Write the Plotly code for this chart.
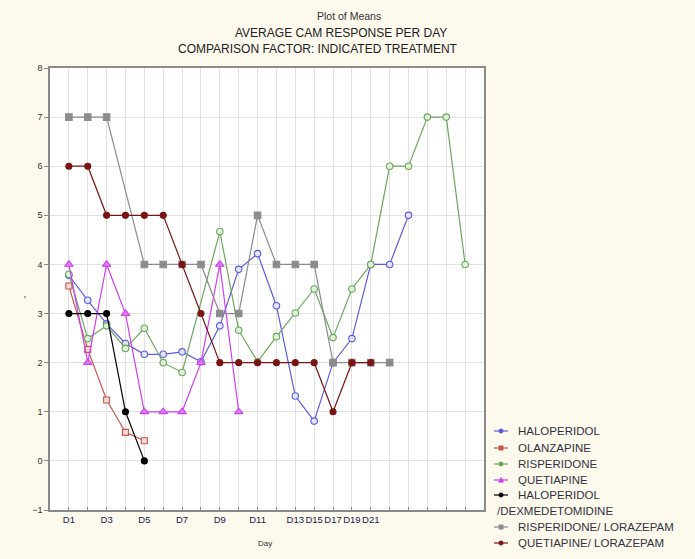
import plotly.graph_objects as go

positions = list(range(1, 23))
day_labels = ["D1", "", "D3", "", "D5", "", "D7", "", "D9", "", "D11", "",
              "D13", "D15", "D17", "D19", "D21", "", "", "", "", ""]

haloperidol = [3.78, 3.27, 2.79, 2.39, 2.17, 2.17, 2.22, 2.02, 2.75, 3.9, 4.22,
               3.16, 1.32, 0.81, 2.0, 2.49, 4.0, 4.0, 5.0]
olanzapine = [3.56, 2.27, 1.24, 0.58, 0.41]
risperidone = [3.8, 2.49, 2.75, 2.29, 2.7, 2.0, 1.8, None, 4.67, 2.66, 2.02,
               2.53, 3.01, 3.5, 2.51, 3.5, 4.0, 6.0, 6.0, 7.0, 7.0, 4.0]
quetiapine = [4, 2, 4, 3, 1, 1, 1, 2, 4, 1]
halo_dex = [3, 3, 3, 1, 0]
risp_loraz = [7, 7, 7, None, 4, 4, 4, 4, 3, 3, 5, 4, 4, 4, 2, 2, 2, 2]
quet_loraz = [6, 6, 5, 5, 5, 5, 4, 3, 2, 2, 2, 2, 2, 2, 1, 2, 2]

series_names = ["HALOPERIDOL", "OLANZAPINE", "RISPERIDONE", "QUETIAPINE",
                "HALOPERIDOL", "RISPERIDONE/ LORAZEPAM", "QUETIAPINE/ LORAZEPAM"]
series_values = [haloperidol, olanzapine, risperidone, quetiapine,
                 halo_dex, risp_loraz, quet_loraz]

# style: line colour, symbol, fill, size
styles = [
    ("#5b5be0", "circle", "#e4e4fa", 6.5),
    ("#c9554f", "square", "#f6dcd8", 6),
    ("#6aa85c", "circle", "#e0f0da", 6.5),
    ("#cc40ee", "triangle-up", "#dc7cf2", 7.5),
    ("#000000", "circle", "#000000", 6),
    ("#8c8c8c", "square", "#8c8c8c", 6.5),
    ("#7a1414", "circle", "#7a1414", 6),
]

W, H = 695, 559
PL, PR, PT, PB = 50, 484, 68, 510


def fx(p):
    return p / W


def fy(p):
    return 1 - p / H


fig = go.Figure()
for name, vals, (color, symbol, fill, size) in zip(series_names, series_values, styles):
    fig.add_trace(go.Scatter(
        x=positions[:len(vals)], y=vals, name=name, mode="lines+markers",
        connectgaps=True, showlegend=False,
        line=dict(color=color, width=1.2),
        marker=dict(symbol=symbol, color=fill, size=size,
                    line=dict(color=color, width=1.1)),
    ))

font = "Liberation Sans, Arial, sans-serif"
annotations = []
shapes = []


def add_text(text, x, y, size, color, xanchor="center"):
    annotations.append(dict(text=text, x=fx(x), y=fy(y), xref="paper", yref="paper",
                            xanchor=xanchor, yanchor="middle", showarrow=False,
                            font=dict(size=size, color=color, family=font)))


add_text("Plot of Means", 349, 16, 10.5, "#333333")
add_text("AVERAGE CAM RESPONSE PER DAY", 341, 33, 12, "#222222")
add_text("COMPARISON FACTOR: INDICATED TREATMENT", 318, 49, 12, "#222222")
add_text("Day", 265, 543, 8, "#333333")
add_text("'", 25, 300, 10, "#333333")

# custom legend
legend_rows = [431, 448, 464, 480, 495, 527, 543]
for (color, symbol, fill, size), name, yrow in zip(styles, series_names, legend_rows):
    shapes.append(dict(type="line", xref="paper", yref="paper",
                       x0=fx(494), x1=fx(508), y0=fy(yrow), y1=fy(yrow),
                       line=dict(color=color, width=1.2)))
    r = 2.2
    cx = 501
    if symbol == "circle":
        shapes.append(dict(type="circle", xref="paper", yref="paper",
                           x0=fx(cx - r), x1=fx(cx + r), y0=fy(yrow + r), y1=fy(yrow - r),
                           fillcolor=color, line=dict(color=color, width=0.5)))
    elif symbol == "square":
        shapes.append(dict(type="rect", xref="paper", yref="paper",
                           x0=fx(cx - r), x1=fx(cx + r), y0=fy(yrow + r), y1=fy(yrow - r),
                           fillcolor=color, line=dict(color=color, width=0.5)))
    else:
        path = "M {} {} L {} {} L {} {} Z".format(
            fx(cx), fy(yrow - r - 0.5), fx(cx - r - 0.5), fy(yrow + r),
            fx(cx + r + 0.5), fy(yrow + r))
        shapes.append(dict(type="path", xref="paper", yref="paper", path=path,
                           fillcolor=color, line=dict(color=color, width=0.5)))
    add_text(name, 516, yrow, 11.5, "#33333f", xanchor="left")
add_text("/DEXMEDETOMIDINE", 495, 511, 11.5, "#33333f", xanchor="left")

fig.update_layout(
    width=W, height=H,
    margin=dict(l=0, r=0, t=0, b=0),
    paper_bgcolor="#fdf9ec",
    plot_bgcolor="#ffffff",
    font=dict(family=font, size=10, color="#333333"),
    showlegend=False,
    annotations=annotations,
    shapes=shapes,
)

fig.update_xaxes(
    domain=[fx(PL), fx(PR)], automargin=False,
    range=[0, 23], tickmode="array", tickvals=positions, ticktext=day_labels,
    tickangle=0,
    showgrid=True, gridcolor="#e2e2e2", gridwidth=1,
    showline=True, linecolor="#8a8a8a", linewidth=1.5, mirror=True,
    ticks="inside", ticklen=3, tickcolor="#8a8a8a",
    tickfont=dict(size=9.5, color="#202050"), zeroline=False,
)
fig.update_yaxes(
    domain=[fy(PB), fy(PT)], automargin=False,
    range=[-1, 8], tickmode="linear", tick0=-1, dtick=1,
    showgrid=True, gridcolor="#e2e2e2", gridwidth=1,
    showline=True, linecolor="#8a8a8a", linewidth=1.5, mirror=True,
    ticks="outside", ticklen=4, tickcolor="#8a8a8a",
    tickfont=dict(size=9, color="#333333"), zeroline=False,
)

fig.write_html("out.html")
